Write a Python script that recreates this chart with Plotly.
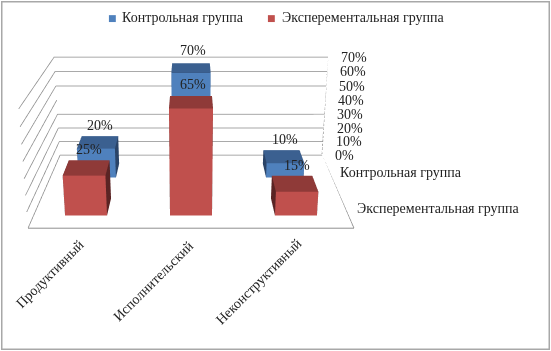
import plotly.graph_objects as go
import math

categories = ["Продуктивный", "Исполнительский", "Неконструктивный"]
series_names = ["Контрольная группа", "Эксперементальная группа"]
control = [20, 70, 10]
experimental = [25, 65, 15]
z_ticks = [0, 10, 20, 30, 40, 50, 60, 70]

FONT = "Liberation Serif"
TXT = "#222222"
GRID = "#8c8c8c"
BLUE = ("#4F81BD", "#3B6090", "#2A4468")
RED = ("#C0504D", "#8F3A38", "#5A2424")

FIG_H = 860
BAR_W = 0.40
BAR_D = 0.42

fig = go.Figure()


def bar(cat, row, value, cols):
    x0, x1 = cat + 0.5 - BAR_W / 2, cat + 0.5 + BAR_W / 2
    y0, y1 = row + 0.5 - BAR_D / 2, row + 0.5 + BAR_D / 2
    xs = [x0, x1, x1, x0, x0, x1, x1, x0]
    ys = [y0, y0, y1, y1, y0, y0, y1, y1]
    zs = [0, 0, 0, 0, value, value, value, value]
    quads = [((0, 1, 5, 4), cols[0]), ((4, 5, 6, 7), cols[1]), ((1, 2, 6, 5), cols[2]),
             ((0, 3, 7, 4), cols[2]), ((3, 2, 6, 7), cols[2]), ((0, 1, 2, 3), cols[2])]
    i, j, k, fc = [], [], [], []
    for (a, b, c, d), col in quads:
        i += [a, a]; j += [b, c]; k += [c, d]; fc += [col, col]
    fig.add_trace(go.Mesh3d(x=xs, y=ys, z=zs, i=i, j=j, k=k, facecolor=fc, flatshading=True,
                            lighting=dict(ambient=1, diffuse=0, specular=0, fresnel=0, roughness=1),
                            hoverinfo="skip", showscale=False))


def line(xs, ys, zs, color=GRID, width=1.5):
    fig.add_trace(go.Scatter3d(x=xs, y=ys, z=zs, mode="lines", line=dict(color=color, width=width),
                               showlegend=False, hoverinfo="skip"))


# walls and floor
for t in z_ticks:
    line([0, 0, 3, 3.03], [0, 2, 2, 2], [t, t, t, t])
line([3, 3], [2, 2], [0, 70])
line([0, 3.04], [0, 0], [0, 0], "#a6a6a6", 2.5)
line([0, 0], [0, 2], [0, 0])
line([3, 3], [0, 2], [0, 0], "#808080", 1.5)
for c in range(4):
    line([c, c], [0, -0.08], [0, 0])
line([3, 3.06], [1, 1], [0, 0])

# back row first
for c, v in enumerate(control):
    bar(c, 1, v, BLUE)
for c, v in enumerate(experimental):
    bar(c, 0, v, RED)

ann = []


def note(x, y, z, text, **kw):
    ann.append(dict(x=x, y=y, z=z, text=text, showarrow=False, font=dict(family=FONT, size=14, color=TXT), **kw))


for t in z_ticks:
    note(3, 2, t, f"{t}%", xanchor="left", xshift=11)
note(3, 1, 0, series_names[0], xanchor="left", xshift=2, yshift=15)
note(3, 0.3, 0, series_names[1], xanchor="left", xshift=7, yshift=7)
cat_dx = [-32, -38, -41]
cat_dy = [-5, -7, -4]
for c, name in enumerate(categories):
    note(c + 0.5, 0, 0, name, textangle=-45, xanchor="center", yanchor="top", yshift=cat_dy[c], xshift=cat_dx[c])
for c, v in enumerate(control):
    note(c + 0.5, 1.5, v, f"{v}%", yshift=17, xshift=2)
for c, v in enumerate(experimental):
    note(c + 0.5, 0.5, v, f"{v}%", yshift=18, xshift=2)

theta = math.radians(28.9)
eye = dict(x=0, y=-3.543, z=0.821)
t = 3.5
center = dict(x=0, y=eye["y"] + math.cos(theta) * t, z=eye["z"] - math.sin(theta) * t)


def py(y):
    return 1 - y / FIG_H


paper = [
    dict(x=120 / 551, y=py(18), xref="paper", yref="paper", xanchor="left", yanchor="middle", showarrow=False,
         text=series_names[0], font=dict(family=FONT, size=14, color=TXT)),
    dict(x=280 / 551, y=py(18), xref="paper", yref="paper", xanchor="left", yanchor="middle", showarrow=False,
         text=series_names[1], font=dict(family=FONT, size=14, color=TXT)),
    dict(x=119 / 551, y=py(18), xref="paper", yref="paper", xanchor="right", yanchor="middle", showarrow=False,
         text=f'<span style="color:{BLUE[0]}">■</span>', font=dict(family="DejaVu Sans", size=9)),
    dict(x=278 / 551, y=py(18), xref="paper", yref="paper", xanchor="right", yanchor="middle", showarrow=False,
         text=f'<span style="color:{RED[0]}">■</span>', font=dict(family="DejaVu Sans", size=9)),
    dict(x=275.5 / 551, y=py(175.5), xref="paper", yref="paper", xanchor="center", yanchor="middle", showarrow=False,
         text=" ", width=546, height=346, bordercolor="#a8a8a8", borderwidth=1.5, borderpad=0),
]

hidden = dict(visible=False, showgrid=False, zeroline=False, showticklabels=False, showbackground=False, showspikes=False)
fig.update_layout(
    width=551, height=FIG_H,
    margin=dict(l=0, r=0, t=0, b=0),
    paper_bgcolor="white",
    font=dict(family=FONT, size=14, color=TXT),
    showlegend=False,
    annotations=paper,
    scene=dict(
        domain=dict(x=[0, 382 / 551], y=[0, 1]),
        xaxis=dict(range=[0, 3], **hidden),
        yaxis=dict(range=[0, 2], **hidden),
        zaxis=dict(range=[0, 70], **hidden),
        aspectmode="manual",
        aspectratio=dict(x=1.003, y=0.894, z=0.358),
        camera=dict(eye=eye, center=center, up=dict(x=0, y=0, z=1), projection=dict(type="perspective")),
        annotations=ann,
    ),
)
fig.write_html("out.html", config=dict(displayModeBar=False),
               post_script="document.documentElement.style.overflow='hidden';document.body.style.overflow='hidden';document.body.style.margin='0';")
